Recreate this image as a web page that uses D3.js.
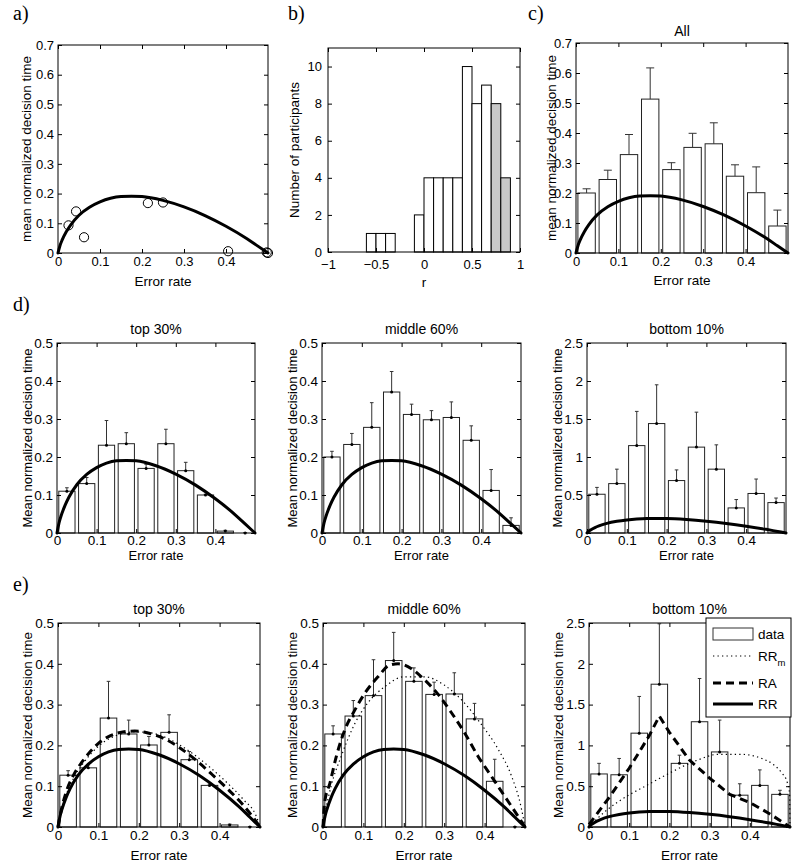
<!DOCTYPE html>
<html><head><meta charset="utf-8">
<script src="https://cdn.jsdelivr.net/npm/d3@7"></script>
<style>
body{margin:0;background:#fff;}
</style></head><body>
<svg id="chart" width="800" height="867" style="background:#fff"></svg>
<script>
// ---------------- DATA ----------------
// Optimal performance curve (RR), error rate vs mean normalized decision time
const rrER = [0, 0.005, 0.01, 0.02, 0.03, 0.05, 0.075, 0.1, 0.125, 0.15, 0.175, 0.2, 0.25, 0.3, 0.35, 0.4, 0.45, 0.475, 0.5];
const rrDT = [0, 0.026, 0.044, 0.072, 0.094, 0.127, 0.154, 0.172, 0.184, 0.190, 0.191, 0.190, 0.177, 0.155, 0.126, 0.090, 0.048, 0.024, 0];

// panel a: individual participant points
const subjER = [0.025, 0.043, 0.062, 0.214, 0.25, 0.405, 0.497, 0.5];
const subjDT = [0.093, 0.14, 0.053, 0.168, 0.17, 0.006, 0.002, 0];

// panel b: histogram of r
const histBinLeft = [-0.6, -0.5, -0.4, -0.1, 0, 0.1, 0.2, 0.3, 0.4, 0.5, 0.6, 0.7, 0.8];
const histBinRight = [-0.5, -0.4, -0.3, 0, 0.1, 0.2, 0.3, 0.4, 0.5, 0.6, 0.7, 0.8, 0.9];
const histCounts = [1, 1, 1, 2, 4, 4, 4, 4, 10, 8, 9, 8, 4];
const histShaded = [0, 0, 0, 0, 0, 0, 0, 0, 0, 0, 0, 1, 1];

// error-rate bins (centres)
const binCenters = [0.025, 0.075, 0.125, 0.175, 0.225, 0.275, 0.325, 0.375, 0.425, 0.475];

// panel c: All
const allMean = [0.20, 0.245, 0.328, 0.513, 0.278, 0.352, 0.364, 0.256, 0.201, 0.09];
const allErrTop = [0.214, 0.276, 0.395, 0.617, 0.301, 0.399, 0.434, 0.294, 0.287, 0.143];

// panel d
const dTopMean = [0.11, 0.13, 0.231, 0.235, 0.170, 0.235, 0.164, 0.10, 0.005, 0];
const dTopErr = [0.119, 0.146, 0.296, 0.264, 0.181, 0.273, 0.186, 0.102, 0.007, 0.001];
const dMidMean = [0.20, 0.233, 0.278, 0.371, 0.312, 0.298, 0.304, 0.244, 0.112, 0.02];
const dMidErr = [0.215, 0.262, 0.343, 0.425, 0.339, 0.322, 0.345, 0.282, 0.167, 0.04];
const dBotMean = [0.51, 0.65, 1.15, 1.44, 0.69, 1.13, 0.84, 0.33, 0.52, 0.40];
const dBotErr = [0.60, 0.84, 1.60, 1.95, 0.83, 1.59, 1.16, 0.44, 0.71, 0.46];

// panel e
const eTopMean = [0.127, 0.145, 0.267, 0.228, 0.201, 0.232, 0.165, 0.102, 0.005, 0];
const eTopErr = [0.138, 0.152, 0.357, 0.262, 0.222, 0.275, 0.185, 0.105, 0.007, 0.001];
const eMidMean = [0.228, 0.272, 0.322, 0.408, 0.357, 0.325, 0.326, 0.265, 0.112, 0];
const eMidErr = [0.248, 0.31, 0.41, 0.477, 0.39, 0.355, 0.378, 0.303, 0.166, 0.001];
const eBotMean = [0.65, 0.64, 1.15, 1.75, 0.78, 1.29, 0.92, 0.39, 0.51, 0.40];
const eBotErr = [0.78, 0.84, 1.60, 2.49, 0.88, 1.82, 1.31, 0.53, 0.70, 0.45];

// model curves in panel e (RA dashed, RRm dotted)
const eTopRA_x = [0, 0.01, 0.02, 0.04, 0.06, 0.08, 0.1, 0.13, 0.16, 0.19, 0.22, 0.26, 0.3, 0.34, 0.38, 0.42, 0.46, 0.49, 0.5];
const eTopRA_y = [0, 0.05, 0.085, 0.13, 0.16, 0.185, 0.205, 0.224, 0.233, 0.235, 0.231, 0.218, 0.195, 0.165, 0.13, 0.093, 0.052, 0.014, 0];
const eTopRRm_x = [0, 0.01, 0.02, 0.04, 0.06, 0.08, 0.1, 0.13, 0.16, 0.19, 0.22, 0.26, 0.3, 0.34, 0.38, 0.42, 0.46, 0.49, 0.5];
const eTopRRm_y = [0, 0.045, 0.078, 0.122, 0.153, 0.178, 0.198, 0.218, 0.229, 0.233, 0.232, 0.222, 0.202, 0.175, 0.143, 0.107, 0.066, 0.028, 0];
const eMidRA_x = [0, 0.004, 0.017, 0.033, 0.054, 0.079, 0.103, 0.136, 0.165, 0.186, 0.219, 0.25, 0.285, 0.318, 0.351, 0.384, 0.417, 0.45, 0.483, 0.5];
const eMidRA_y = [0, 0.06, 0.107, 0.173, 0.238, 0.287, 0.327, 0.368, 0.397, 0.40, 0.388, 0.362, 0.325, 0.28, 0.23, 0.173, 0.124, 0.075, 0.026, 0];
const eMidRRm_x = [0, 0.004, 0.02, 0.045, 0.079, 0.11, 0.153, 0.2, 0.252, 0.3, 0.351, 0.39, 0.434, 0.467, 0.49, 0.5];
const eMidRRm_y = [0, 0.026, 0.1, 0.173, 0.254, 0.303, 0.344, 0.368, 0.368, 0.348, 0.303, 0.254, 0.19, 0.124, 0.05, 0];
const eBotRA_x = [0, 0.05, 0.1, 0.15, 0.175, 0.2, 0.25, 0.3, 0.35, 0.4, 0.45, 0.5];
const eBotRA_y = [0.03, 0.36, 0.72, 1.12, 1.36, 1.16, 0.82, 0.6, 0.4, 0.3, 0.16, 0];
const eBotRRm_x = [0, 0.02, 0.045, 0.07, 0.095, 0.14, 0.2, 0.27, 0.32, 0.38, 0.43, 0.46, 0.48, 0.493, 0.499, 0.5];
const eBotRRm_y = [0, 0.1, 0.21, 0.3, 0.38, 0.5, 0.66, 0.82, 0.89, 0.89, 0.84, 0.76, 0.66, 0.55, 0.4, 0];

// tick values / labels
const erTicks = [0, 0.1, 0.2, 0.3, 0.4];
const erTickLabels = ["0", "0.1", "0.2", "0.3", "0.4"];
const y07Ticks = [0, 0.1, 0.2, 0.3, 0.4, 0.5, 0.6, 0.7];
const y07Labels = ["0", "0.1", "0.2", "0.3", "0.4", "0.5", "0.6", "0.7"];
const y05Ticks = [0, 0.1, 0.2, 0.3, 0.4, 0.5];
const y05Labels = ["0", "0.1", "0.2", "0.3", "0.4", "0.5"];
const y25Ticks = [0, 0.5, 1, 1.5, 2, 2.5];
const y25Labels = ["0", "0.5", "1", "1.5", "2", "2.5"];
const rTicks = [-1, -0.5, 0, 0.5, 1];
const rTickLabels = ["\u22121", "\u22120.5", "0", "0.5", "1"];
const countTicks = [0, 2, 4, 6, 8, 10];
const countTickLabels = ["0", "2", "4", "6", "8", "10"];
const legendLabels = ["data", "RR", "RA", "RR"];

// ---------------- DRAWING ----------------
const svg = d3.select("#chart");
const FONT = '"Liberation Sans", Arial, Helvetica, sans-serif';
const SERIF = '"Liberation Serif", "Times New Roman", serif';

function panel(o) {
  const x = d3.scaleLinear().domain(o.xDomain).range([o.L, o.R]);
  const y = d3.scaleLinear().domain(o.yDomain).range([o.B, o.T]);
  const g = svg.append("g");
  const content = g.append("g");
  const axes = g.append("g");
  return { x, y, g, content, axes, o };
}

function drawAxes(p) {
  const { x, y, axes, o } = p;
  const fs = o.tickFont || 13;
  axes.append("g").attr("transform", `translate(0,${o.B})`)
    .call(d3.axisBottom(x).tickValues(o.xTicks).tickFormat((d, i) => o.xTickLabels[i]).tickSize(-4).tickSizeOuter(0).tickPadding(o.xPad || 4));
  axes.append("g").attr("transform", `translate(0,${o.T})`)
    .call(d3.axisTop(x).tickValues(o.xTicks).tickFormat("").tickSize(-4).tickSizeOuter(0));
  axes.append("g").attr("transform", `translate(${o.L},0)`)
    .call(d3.axisLeft(y).tickValues(o.yTicks).tickFormat((d, i) => o.yTickLabels[i]).tickSize(-4).tickSizeOuter(0).tickPadding(o.yPad || 4));
  axes.append("g").attr("transform", `translate(${o.R},0)`)
    .call(d3.axisRight(y).tickValues(o.yTicks).tickFormat("").tickSize(-4).tickSizeOuter(0));
  axes.selectAll(".domain").remove();
  axes.selectAll(".tick line").attr("stroke", "#000").attr("stroke-width", 1);
  axes.selectAll("text").attr("font-family", FONT).attr("font-size", fs).attr("fill", "#000");
  axes.append("rect").attr("x", o.L).attr("y", o.T).attr("width", o.R - o.L).attr("height", o.B - o.T)
    .attr("fill", "none").attr("stroke", "#000").attr("stroke-width", 1);
  const lf = o.labelFont || 13.5;
  axes.append("text").attr("x", (o.L + o.R) / 2).attr("y", o.xLabelY).attr("text-anchor", "middle")
    .attr("font-family", FONT).attr("font-size", lf).text(o.xLabel);
  axes.append("text").attr("transform", `translate(${o.yLabelX},${(o.T + o.B) / 2}) rotate(-90)`)
    .attr("text-anchor", "middle").attr("font-family", FONT).attr("font-size", lf).text(o.yLabel);
  if (o.title) {
    axes.append("text").attr("x", (o.L + o.R) / 2).attr("y", o.titleY).attr("text-anchor", "middle")
      .attr("font-family", FONT).attr("font-size", o.titleFont || 14).text(o.title);
  }
}

function drawCurve(p, xs, ys, style) {
  const line = d3.line().x(d => p.x(d[0])).y(d => p.y(d[1])).curve(style.curve || d3.curveMonotoneX);
  p.content.append("path").datum(d3.zip(xs, ys)).attr("d", line)
    .attr("fill", "none").attr("stroke", "#000").attr("stroke-width", style.w)
    .attr("stroke-dasharray", style.dash || null).attr("stroke-linecap", style.cap || "butt");
}

function drawBars(p, means, errs, opts) {
  const { x, y, content } = p;
  const hw = 0.0205;
  binCenters.forEach((c, i) => {
    const m = means[i];
    if (m > 0) {
      content.append("rect").attr("x", x(c - hw)).attr("y", y(m))
        .attr("width", x(c + hw) - x(c - hw)).attr("height", y(0) - y(m))
        .attr("fill", "#fff").attr("stroke", "#222").attr("stroke-width", 1);
    }
    const cx = x(c);
    content.append("line").attr("x1", cx).attr("x2", cx).attr("y1", y(m)).attr("y2", y(errs[i]))
      .attr("stroke", "#333").attr("stroke-width", 1);
    content.append("line").attr("x1", cx - opts.cap).attr("x2", cx + opts.cap).attr("y1", y(errs[i])).attr("y2", y(errs[i]))
      .attr("stroke", "#333").attr("stroke-width", 1);
    if (opts.dot) {
      content.append("circle").attr("cx", cx).attr("cy", y(m)).attr("r", 1.5).attr("fill", "#000");
    }
  });
}

function letter(t, x, y) {
  svg.append("text").attr("x", x).attr("y", y).attr("font-family", SERIF).attr("font-size", 20).text(t);
}

const RRstyle = { w: 3, cap: "round" };
const RAstyle = { w: 3, dash: "8,5" };
const RRmStyle = { w: 1.2, dash: "1.3,3.2" };

// ----- panel a -----
const pa = panel({ L: 58, R: 268, T: 45, B: 253, xDomain: [0, 0.5], yDomain: [0, 0.7],
  xTicks: erTicks, xTickLabels: erTickLabels, yTicks: y07Ticks, yTickLabels: y07Labels,
  xLabel: "Error rate", yLabel: "mean normalized decision time", xLabelY: 286, yLabelX: 31 });
drawCurve(pa, rrER, rrDT, RRstyle);
subjER.forEach((e, i) => {
  pa.content.append("circle").attr("cx", pa.x(e)).attr("cy", pa.y(subjDT[i])).attr("r", 4.6)
    .attr("fill", "none").attr("stroke", "#000").attr("stroke-width", 1);
});
drawAxes(pa);

// ----- panel b -----
const pb = panel({ L: 328, R: 520, T: 48, B: 252, xDomain: [-1, 1], yDomain: [0, 11],
  xTicks: rTicks, xTickLabels: rTickLabels, yTicks: countTicks, yTickLabels: countTickLabels,
  xLabel: "r", yLabel: "Number of participants", xLabelY: 287, yLabelX: 299, xPad: 8, yPad: 6 });
histBinLeft.forEach((l, i) => {
  pb.content.append("rect").attr("x", pb.x(l)).attr("y", pb.y(histCounts[i]))
    .attr("width", pb.x(histBinRight[i]) - pb.x(l)).attr("height", pb.y(0) - pb.y(histCounts[i]))
    .attr("fill", histShaded[i] ? "#c9c9c9" : "#fff").attr("stroke", "#000").attr("stroke-width", 1);
});
drawAxes(pb);

// ----- panel c -----
const pc = panel({ L: 576, R: 788, T: 43, B: 253, xDomain: [0, 0.5], yDomain: [0, 0.7],
  xTicks: erTicks, xTickLabels: erTickLabels, yTicks: y07Ticks, yTickLabels: y07Labels,
  xLabel: "Error rate", yLabel: "mean normalized decision time", xLabelY: 285, yLabelX: 556,
  title: "All", titleY: 36 });
drawBars(pc, allMean, allErrTop, { cap: 4, dot: false });
drawCurve(pc, rrER, rrDT, RRstyle);
drawAxes(pc);

// ----- row d -----
const dRows = [
  { L: 57, R: 255, title: "top 30%", yDomain: [0, 0.5], yt: y05Ticks, yl: y05Labels, m: dTopMean, e: dTopErr },
  { L: 322, R: 521, title: "middle 60%", yDomain: [0, 0.5], yt: y05Ticks, yl: y05Labels, m: dMidMean, e: dMidErr },
  { L: 587, R: 786, title: "bottom 10%", yDomain: [0, 2.5], yt: y25Ticks, yl: y25Labels, m: dBotMean, e: dBotErr }
];
dRows.forEach(r => {
  const p = panel({ L: r.L, R: r.R, T: 343, B: 533, xDomain: [0, 0.5], yDomain: r.yDomain,
    xTicks: erTicks, xTickLabels: erTickLabels, yTicks: r.yt, yTickLabels: r.yl,
    xLabel: "Error rate", yLabel: "Mean normalized decision time", xLabelY: 560, yLabelX: r.L - 25,
    title: r.title, titleY: 334, labelFont: 13, tickFont: 13.5, xPad: 2 });
  drawBars(p, r.m, r.e, { cap: 1.8, dot: true });
  drawCurve(p, rrER, rrDT, RRstyle);
  drawAxes(p);
});

// ----- row e -----
const eRows = [
  { L: 58, R: 260, title: "top 30%", yDomain: [0, 0.5], yt: y05Ticks, yl: y05Labels, m: eTopMean, e: eTopErr,
    ra: [eTopRA_x, eTopRA_y], rrm: [eTopRRm_x, eTopRRm_y], raCurve: d3.curveMonotoneX },
  { L: 323, R: 525, title: "middle 60%", yDomain: [0, 0.5], yt: y05Ticks, yl: y05Labels, m: eMidMean, e: eMidErr,
    ra: [eMidRA_x, eMidRA_y], rrm: [eMidRRm_x, eMidRRm_y], raCurve: d3.curveMonotoneX },
  { L: 589, R: 790, title: "bottom 10%", yDomain: [0, 2.5], yt: y25Ticks, yl: y25Labels, m: eBotMean, e: eBotErr,
    ra: [eBotRA_x, eBotRA_y], rrm: [eBotRRm_x, eBotRRm_y], raCurve: d3.curveLinear }
];
let lastE = null;
eRows.forEach(r => {
  const p = panel({ L: r.L, R: r.R, T: 623, B: 827, xDomain: [0, 0.5], yDomain: r.yDomain,
    xTicks: erTicks, xTickLabels: erTickLabels, yTicks: r.yt, yTickLabels: r.yl,
    xLabel: "Error rate", yLabel: "Mean normalized decision time", xLabelY: 860, yLabelX: r.L - 26,
    title: r.title, titleY: 614, labelFont: 13.5, tickFont: 13.5, xPad: 3 });
  drawBars(p, r.m, r.e, { cap: 1.8, dot: true });
  drawCurve(p, rrER, rrDT, RRstyle);
  drawCurve(p, r.ra[0], r.ra[1], Object.assign({}, RAstyle, { curve: r.raCurve }));
  drawCurve(p, r.rrm[0], r.rrm[1], RRmStyle);
  drawAxes(p);
  lastE = p;
});

// legend (in last e panel)
const lg = lastE.g.append("g");
const LX = 706, LY = 618, LW = 85, LH = 99;
lg.append("rect").attr("x", LX).attr("y", LY).attr("width", LW).attr("height", LH)
  .attr("fill", "#fff").attr("stroke", "#000").attr("stroke-width", 1);
const rowsY = [634, 656, 683, 704];
lg.append("rect").attr("x", LX + 7).attr("y", rowsY[0] - 6).attr("width", 40).attr("height", 12)
  .attr("fill", "#fff").attr("stroke", "#333").attr("stroke-width", 1);
[RRmStyle, RAstyle, RRstyle].forEach((st, i) => {
  lg.append("line").attr("x1", LX + 7).attr("x2", LX + 47).attr("y1", rowsY[i + 1]).attr("y2", rowsY[i + 1])
    .attr("stroke", "#000").attr("stroke-width", st.w).attr("stroke-dasharray", st.dash || null);
});
legendLabels.forEach((t, i) => {
  const tx = lg.append("text").attr("x", LX + 52).attr("y", rowsY[i] + 5).attr("font-family", FONT).attr("font-size", 13.5).text(t);
  if (i === 1) tx.append("tspan").attr("dy", 5).attr("font-size", 9.5).text("m");
});

// panel letters
letter("a)", 13, 20);
letter("b)", 288, 20);
letter("c)", 528, 20);
letter("d)", 13, 311);
letter("e)", 13, 591);
</script>
</body></html>
